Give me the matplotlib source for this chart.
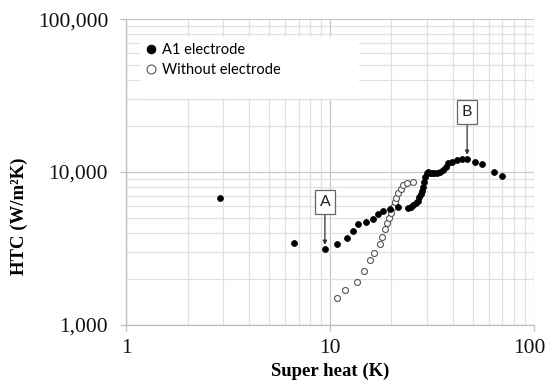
import matplotlib
matplotlib.use("Agg")
import matplotlib.pyplot as plt
from matplotlib.patches import Rectangle
from matplotlib.transforms import ScaledTranslation
from matplotlib.ticker import FuncFormatter, LogLocator, NullFormatter

# Boiling curve: heat transfer coefficient vs wall superheat
a1_superheat = [2.89, 6.67, 9.43, 10.86, 12.13, 12.92, 13.70, 15.0, 16.17, 17.21,
                18.19, 19.75, 21.56, 23.98, 24.8, 25.55, 26.34, 26.94, 27.35, 27.77,
                28.2, 28.6, 28.93, 29.26, 29.71, 30.27, 31.0, 31.78, 32.5, 33.27,
                34.54, 35.86, 36.96, 37.94, 39.83, 41.98, 44.26, 46.99, 51.3, 55.5,
                64.0, 69.3]
a1_htc = [6720, 3410, 3130, 3395, 3695, 4105, 4590, 4677, 4947, 5308,
          5553, 5740, 5855, 5780, 5930, 6080, 6237, 6490, 6820, 7174,
          7542, 8014, 8590, 9222, 9795, 9950, 9850, 9795, 9840, 9890,
          10040, 10300, 10830, 11400, 11680, 11910, 12100, 12170, 11680, 11220,
          10000, 9368]

bare_superheat = [10.86, 11.89, 13.49, 14.71, 15.66, 16.49, 17.49, 17.98, 18.55, 19.07,
                  19.5, 19.86, 20.3, 20.7, 21.1, 21.6, 22.16, 22.83, 23.9, 25.37]
bare_htc = [1488, 1694, 1904, 2246, 2639, 2947, 3375, 3750, 4233, 4634,
            5010, 5410, 5860, 6330, 6790, 7244, 7730, 8175, 8424, 8550]

label_a1 = "A1 electrode"
label_bare = "Without electrode"
x_label = "Super heat (K)"
y_label = "HTC (W/m²K)"
point_a = 2     # index of point marked "A"
point_b = 37    # index of point marked "B"

W, H = 546, 385
fig = plt.figure(figsize=(W / 100, H / 100), dpi=100)
ax = fig.add_axes([126.2 / W, 1 - 324.7 / H, (534 - 126.2) / W, (324.7 - 19.3) / H])

ax.set_xscale("log")
ax.set_yscale("log")
ax.set_xlim(1, 100)
ax.set_ylim(1000, 100000)

ax.xaxis.set_major_locator(LogLocator(base=10, numticks=10))
ax.xaxis.set_minor_locator(LogLocator(base=10, subs=range(2, 10), numticks=10))
ax.yaxis.set_major_locator(LogLocator(base=10, numticks=10))
ax.yaxis.set_minor_locator(LogLocator(base=10, subs=range(2, 10), numticks=10))
ax.xaxis.set_major_formatter(FuncFormatter(lambda v, p: f"{v:,.0f}"))
ax.yaxis.set_major_formatter(FuncFormatter(lambda v, p: f"{v:,.0f}"))
ax.xaxis.set_minor_formatter(NullFormatter())
ax.yaxis.set_minor_formatter(NullFormatter())

ax.grid(True, which="major", color="#c8c8c8", lw=0.9, zorder=0)
ax.grid(True, which="minor", color="#e0e0e0", lw=0.9, zorder=0)
ax.set_axisbelow(True)
for side in ("top", "right"):
    ax.spines[side].set_visible(False)
for side in ("left", "bottom"):
    ax.spines[side].set_color("#bfbfbf")
    ax.spines[side].set_linewidth(0.9)

serif = "Liberation Serif"
ax.tick_params(which="major", length=4.5, width=0.9, color="#bfbfbf",
               labelsize=15.5, labelcolor="#111111")
ax.tick_params(axis="x", which="major", pad=6)
ax.tick_params(axis="y", which="major", pad=8.5)
ax.tick_params(which="minor", length=0)
for lbl in ax.get_xticklabels() + ax.get_yticklabels():
    lbl.set_fontfamily(serif)

ax.set_xlabel(x_label, fontfamily=serif, fontweight="bold", fontsize=13.5, labelpad=3)
ax.set_ylabel(y_label, fontfamily=serif, fontweight="bold", fontsize=13.5)
ax.yaxis.set_label_coords(-0.241, 0.356)

# white legend panel over the grid
to_ax = lambda px, py: ((px - 126.2) / (534 - 126.2), (324.7 - py) / (324.7 - 19.3))
x0, y0 = to_ax(140, 99)
x1, y1 = to_ax(359, 37)
ax.add_patch(Rectangle((x0, y0), x1 - x0, y1 - y0, transform=ax.transAxes,
                       facecolor="white", edgecolor="none", zorder=1.5))

ax.plot(a1_superheat, a1_htc, "o", ms=4.2, mfc="black", mec="black", mew=0.6,
        ls="none", label=label_a1, zorder=3)
ax.plot(bare_superheat, bare_htc, "o", ms=4.3, mfc="white", mec="#555555", mew=0.8,
        ls="none", label=label_bare, zorder=2.5)

lx, ly = to_ax(140, 37)
leg = ax.legend(loc="upper left", bbox_to_anchor=(lx, ly), frameon=False,
                prop={"family": "Lato", "size": 10.5}, handlelength=0.7,
                handletextpad=0.4, labelspacing=0.4, borderaxespad=0,
                borderpad=0.4, markerscale=1.5)
leg.set_zorder(4)

box = dict(boxstyle="square,pad=0.3", facecolor="white", edgecolor="#666666", lw=0.9)
arrow = dict(arrowstyle="-|>", color="#333333", lw=0.9, mutation_scale=6,
             shrinkA=0, shrinkB=3)
for idx, name in ((point_a, "A"), (point_b, "B")):
    ax.annotate(name, xy=(a1_superheat[idx], a1_htc[idx]), xytext=(0, 47),
                textcoords="offset pixels", ha="center", va="center",
                fontfamily="Lato", fontsize=11.5, color="#222222",
                bbox=box, arrowprops=arrow, zorder=5)

# keep the last x tick label inside the canvas
fig.canvas.draw()
for lbl in ax.get_xticklabels():
    if lbl.get_text() == "100":
        lbl.set_transform(lbl.get_transform() + ScaledTranslation(-5 / 100, 0, fig.dpi_scale_trans))

fig.savefig("out.png", dpi=100)
